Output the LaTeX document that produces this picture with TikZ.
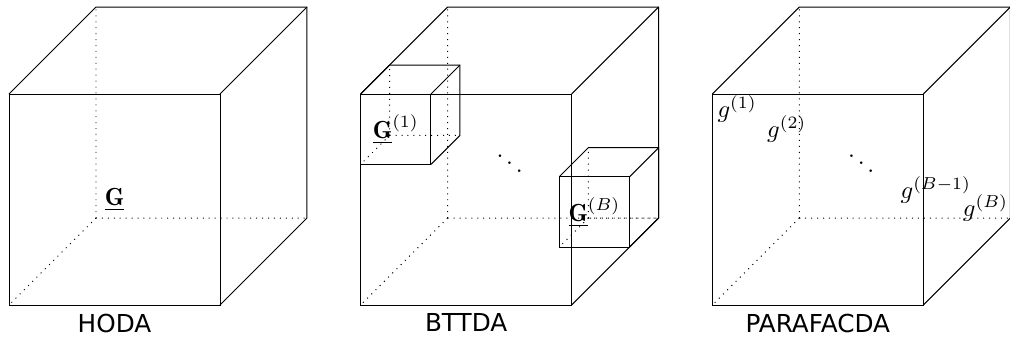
\documentclass[tikz,border=0pt]{standalone}
\usepackage{fontspec}
\newfontfamily\labelfont{DejaVu Sans}
\tikzset{
  edge/.style={draw=black, line width=0.4pt},
  hidden/.style={draw=black, dotted},
  caption/.style={anchor=north, font=\labelfont},
  factor/.style={inner sep=0pt}
}
% cube with its front bottom left corner at #1 and side #2
\newcommand{\tcube}[2]{%
  \begin{scope}[shift={#1}, scale=#2]
    \draw[hidden] (0,0,1) -- (0,1,1) (0,0,1) -- (1,0,1) (0,0,1) -- (0,0,0);
    \draw[edge] (0,0,0) -- (1,0,0) -- (1,1,0) -- (0,1,0) -- cycle;
    \draw[edge] (0,1,0) -- (0,1,1) -- (1,1,1) -- (1,0,1) -- (1,0,0);
    \draw[edge] (1,1,0) -- (1,1,1);
  \end{scope}}

\begin{document}
\begin{tikzpicture}[x=1cm,y=1cm,z={(0.4123cm,0.4123cm)}]
  \useasboundingbox (-0.128,-0.455) rectangle (14.233,4.337);

  % HODA
  \tcube{(0,0,0)}{3}
  \node[factor] (core) at (1.5,1.5,0) {$\underline{\mathbf{G}}$};
  \node[caption] (hoda) at (1.5,0) {HODA};

  % BTTDA
  \tcube{(5,0,0)}{3}
  \tcube{(5,2,0)}{1}
  \tcube{(7,0,2)}{1}
  \node[factor] (core1) at (5.5,2.5,0) {$\underline{\mathbf{G}}^{(1)}$};
  \node[factor] (coreB) at (7.5,0.5,2) {$\underline{\mathbf{G}}^{(B)}$};
  \node[factor] (bdots) at (6.5,1.5,1.5) {$\ddots$};
  \node[caption] (bttda) at (6.5,0) {BTTDA};

  % PARAFACDA
  \tcube{(10,0,0)}{3}
  \node[factor] (g1) at (10.25,2.68,0.25) {$g^{(1)}$};
  \node[factor] (g2) at (10.75,2.2,0.75) {$g^{(2)}$};
  \node[factor] (gdots) at (11.5,1.5,1.5) {$\ddots$};
  \node[factor] (gB1) at (12.25,0.71,2.25) {$g^{(B-1)}$};
  \node[factor] (gB) at (12.75,0.25,2.75) {$g^{(B)}$};
  \node[caption] (parafacda) at (11.5,0) {PARAFACDA};
\end{tikzpicture}
\end{document}
